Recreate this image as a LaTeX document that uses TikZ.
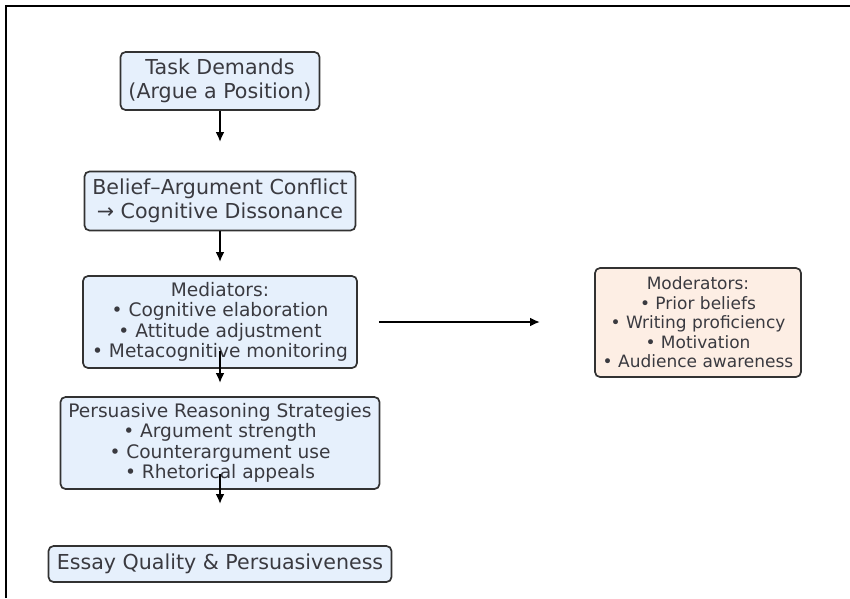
\documentclass[tikz,border=0pt]{standalone}
\usepackage{fontspec}
\setmainfont{DejaVu Sans}
\usepackage{tikz}
\usetikzlibrary{positioning,arrows.meta}
\definecolor{boxblue}{RGB}{230,240,252}
\definecolor{boxpeach}{RGB}{253,238,228}
\definecolor{edgegray}{RGB}{50,50,50}
\definecolor{textgray}{RGB}{58,58,64}
\tikzset{
    stage/.style={
        rectangle,
        draw=edgegray,
        fill=boxblue,
        line width=1.7pt,
        rounded corners=5pt,
        align=center,
        text=textgray,
        inner sep=0pt
    },
    modbox/.style={
        stage,
        fill=boxpeach
    },
    bigtxt/.style={font=\fontsize{20.6}{24.5}\selectfont},
    midtxt/.style={font=\fontsize{18.6}{20.3}\selectfont},
    smalltxt/.style={font=\fontsize{17}{19.5}\selectfont},
    arr/.style={-{Latex[length=10pt,width=9pt]},line width=2.1pt,black}
}

\begin{document}
\begin{tikzpicture}[x=1pt,y=-1pt]
\useasboundingbox (0,0) rectangle (850,598);
\draw[line width=2.2pt] (6,598) -- (6,6) -- (850,6);

\node[stage,bigtxt,minimum width=199pt,minimum height=58pt] (task) at (220,81)
    {Task Demands\\(Argue a Position)};
\node[stage,bigtxt,minimum width=271pt,minimum height=59pt] (belief) at (220,201)
    {Belief–Argument Conflict\\→ Cognitive Dissonance};
\node[stage,midtxt,minimum width=274pt,minimum height=92pt] (med) at (220,322)
    {Mediators:\\• Cognitive elaboration\\• Attitude adjustment\\• Metacognitive monitoring};
\node[stage,midtxt,minimum width=319pt,minimum height=92pt] (pers) at (220,443)
    {Persuasive Reasoning Strategies\\• Argument strength\\• Counterargument use\\• Rhetorical appeals};
\node[stage,bigtxt,minimum width=343pt,minimum height=36pt] (essay) at (220,564)
    {Essay Quality \& Persuasiveness};
\node[modbox,smalltxt,minimum width=206pt,minimum height=109pt] (mod) at (698,322.5)
    {Moderators:\\• Prior beliefs\\• Writing proficiency\\• Motivation\\• Audience awareness};

\coordinate (a1) at (220,142);
\coordinate (a2) at (220,262);
\coordinate (a3) at (220,383);
\coordinate (a4) at (220,504);
\coordinate (a5) at (540,322);

\draw[arr] (task.south) -- (a1);
\draw[arr] (belief.south) -- (a2);
\draw[arr] ([yshift=18pt]med.south) -- (a3);
\draw[arr] ([yshift=16pt]pers.south) -- (a4);
\draw[arr] ([xshift=21pt]med.east) -- (a5);
\end{tikzpicture}
\end{document}
